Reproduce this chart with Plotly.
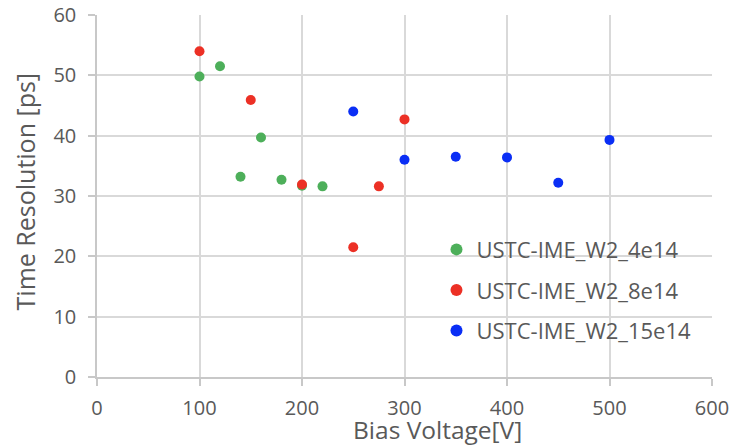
import plotly.graph_objects as go

# Bias voltage scans for three fluences
v_4e14 = [100, 120, 140, 160, 180, 200, 220]
t_4e14 = [49.8, 51.5, 33.2, 39.7, 32.7, 31.7, 31.6]

v_8e14 = [100, 150, 200, 250, 275, 300]
t_8e14 = [54.0, 45.9, 31.9, 21.5, 31.6, 42.7]

v_15e14 = [250, 300, 350, 400, 450, 500]
t_15e14 = [44.0, 36.0, 36.5, 36.4, 32.2, 39.3]

series = [
    ("USTC-IME_W2_4e14", v_4e14, t_4e14, "#4DAF5A"),
    ("USTC-IME_W2_8e14", v_8e14, t_8e14, "#EC3025"),
    ("USTC-IME_W2_15e14", v_15e14, t_15e14, "#0A2EF5"),
]

x_ticks = [0, 100, 200, 300, 400, 500, 600]
y_ticks = [0, 10, 20, 30, 40, 50, 60]

FONT = "Open Sans"
TEXT = "#595959"
GRID = "#d9d9d9"
AXIS = "#c8c8c8"

fig = go.Figure()
for name, xs, ys, color in series:
    fig.add_trace(go.Scatter(
        x=xs, y=ys, mode="markers", name=name, legendgroup=name,
        marker=dict(color=color, size=10, line=dict(width=0)),
    ))

fig.update_layout(
    width=734, height=446,
    margin=dict(l=97, r=22, t=15, b=69),
    paper_bgcolor="white", plot_bgcolor="white",
    font=dict(family=FONT, color=TEXT, size=18),
    showlegend=True,
    legend=dict(
        x=0.552, y=0.41, xanchor="left", yanchor="top",
        bgcolor="rgba(0,0,0,0)", font=dict(size=22, color=TEXT),
        tracegroupgap=9, itemsizing="constant",
    ),
    annotations=[
        dict(text="Bias Voltage[V]", xref="paper", yref="paper",
             x=0.554, y=-0.146, xanchor="center", yanchor="middle",
             showarrow=False, font=dict(size=24.5, color=TEXT)),
        dict(text="Time Resolution [ps]", xref="paper", yref="paper",
             x=-0.117, y=0.51, xanchor="center", yanchor="middle", textangle=-90,
             showarrow=False, font=dict(size=25, color=TEXT)),
    ],
)

fig.update_xaxes(
    range=[0, 600], tickvals=x_ticks, ticktext=[str(v) for v in x_ticks],
    showgrid=True, gridcolor=GRID, gridwidth=1.5,
    showline=True, linecolor=AXIS, linewidth=1.5,
    ticks="outside", ticklen=7, tickcolor=AXIS, tickwidth=1.5,
    ticklabelstandoff=5, zeroline=False, automargin=False,
    tickfont=dict(size=20, color=TEXT),
)
fig.update_yaxes(
    range=[0, 60], tickvals=y_ticks, ticktext=[str(v) for v in y_ticks],
    showgrid=True, gridcolor=GRID, gridwidth=1.5,
    showline=True, linecolor=AXIS, linewidth=1.5,
    ticks="outside", ticklen=7, tickcolor=AXIS, tickwidth=1.5,
    ticklabelstandoff=8, zeroline=False, automargin=False,
    tickfont=dict(size=20, color=TEXT),
)

fig.write_html("out.html")
